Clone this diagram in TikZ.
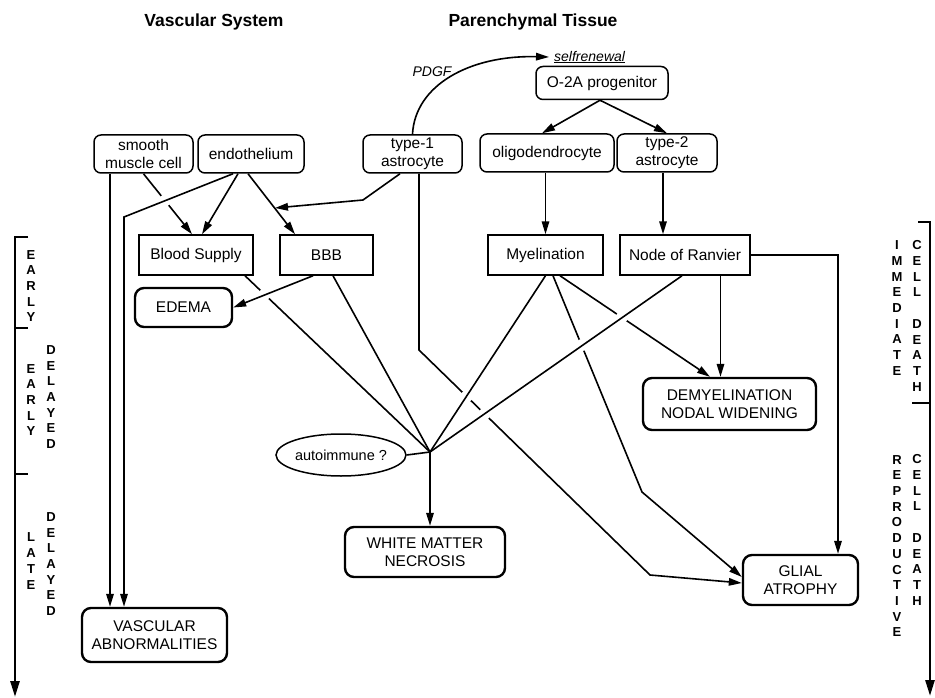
\documentclass[tikz,border=0pt]{standalone}
\usepackage{fontspec}
\setmainfont{Liberation Sans}
\usetikzlibrary{arrows.meta, shapes.geometric}

\begin{document}
\begin{tikzpicture}[x=1pt, y=-1pt,
  every node/.style={font=\fontsize{15.5}{18}\selectfont},
  cell/.style={draw, rounded corners=7pt, line width=1.5pt, minimum height=38pt, inner sep=0pt, align=center},
  effect/.style={draw, line width=1.5pt, minimum height=40pt, inner sep=0pt},
  outcome/.style={draw, rounded corners=9pt, line width=2.4pt, inner sep=0pt, align=center},
  heading/.style={font=\fontsize{17.5}{20}\selectfont\bfseries},
  note/.style={font=\fontsize{14}{16}\selectfont\itshape, inner sep=1pt},
  stack/.style={font=\fontsize{13}{15.7}\selectfont\bfseries, align=center, inner sep=0pt},
  link/.style={line width=1.6pt},
  arr/.style={link, -{Triangle[length=13pt,width=7.5pt]}},
  timeline/.style={line width=2.6pt, -{Triangle[length=16pt,width=9pt]}}
]
\useasboundingbox (0,0) rectangle (935,698);

% headings
\node[heading] (vasctitle) at (214,22) {Vascular System};
\node[heading] (parentitle) at (533,22) {Parenchymal Tissue};

% cells
\node[cell, minimum width=99pt] (smooth) at (143.5,154) {smooth\\muscle cell};
\node[cell, minimum width=106pt] (endo) at (251,154) {endothelium};
\node[cell, minimum width=99pt] (ast1) at (412.5,154) {type-1\\astrocyte};
\node[cell, minimum width=132pt, minimum height=33pt] (o2a) at (602,83) {O-2A progenitor};
\node[cell, minimum width=134pt] (oligo) at (547,153) {oligodendrocyte};
\node[cell, minimum width=100pt] (ast2) at (667,153) {type-2\\astrocyte};

\node[note, anchor=west, inner xsep=5pt] (self) at (549,57) {\underline{selfrenewal}};
\node[note] (pdgf) at (432,72) {PDGF};

% functions
\node[effect, minimum width=114pt] (blood) at (196,255) {Blood Supply};
\node[effect, minimum width=93pt] (bbb) at (326.5,255) {BBB};
\node[effect, minimum width=115pt] (myel) at (545.5,255) {Myelination};
\node[effect, minimum width=130pt] (ranvier) at (685,255) {Node of Ranvier};

% outcomes
\node[outcome, minimum width=97pt, minimum height=39pt] (edema) at (183.5,307.5) {EDEMA};
\node[outcome, minimum width=173pt, minimum height=52pt] (demyel) at (729.5,404) {DEMYELINATION\\NODAL WIDENING};
\node[outcome, minimum width=160pt, minimum height=50pt] (necrosis) at (425,552) {WHITE MATTER\\NECROSIS};
\node[outcome, minimum width=115pt, minimum height=50pt] (glial) at (800.5,580) {GLIAL\\ATROPHY};
\node[outcome, minimum width=145pt, minimum height=54pt] (vasc) at (154.5,635) {VASCULAR\\ABNORMALITIES};
\node[ellipse, draw, line width=1.5pt, minimum width=124pt, minimum height=42pt, inner sep=0pt,
  font=\fontsize{14.5}{16}\selectfont] (auto) at (341,455) {autoimmune ?};

\coordinate (J) at (430,452);
\coordinate (endobend) at (124,217);
\coordinate (astbend) at (363,200);
\coordinate (bbbin) at (275,208);
\coordinate (ast1bend) at (419,350);
\coordinate (ast1knee) at (650,575);
\coordinate (myelknee) at (642,492);

% lines passing underneath
\draw[arr] (smooth.south) -- ([xshift=-4pt]blood.north);
\draw[link] ([xshift=49pt]blood.south) -- (J);
\draw[arr] ([xshift=6.5pt]ast1.south) -- (ast1bend) -- (ast1knee) -- ([yshift=-3pt]glial.west);
\draw[arr] ([xshift=14.5pt]myel.south) -- ([xshift=-19.5pt]demyel.north);
\draw[arr] ([xshift=7.5pt]myel.south) -- (myelknee) -- ([yshift=3pt]glial.west);

% gaps at crossings
\fill[white] (165,200.5) circle (6) (265,294) circle (6) (466.5,396.5) circle (6)
  (484.5,414) circle (6) (622,317) circle (6) (582,345) circle (6);

% vascular system
\draw[arr] ([xshift=-33.5pt]smooth.south) -- ([xshift=-33.5pt]smooth.south |- vasc.north);
\draw[arr] ([xshift=-18pt]endo.south) -- (endobend) -- (endobend |- vasc.north);
\draw[arr] ([xshift=-13pt]endo.south) -- ([xshift=6pt]blood.north);
\draw[arr] ([xshift=-3pt]endo.south) -- ([xshift=-31.5pt]bbb.north);
\draw[arr] ([xshift=-12.5pt]ast1.south) -- (astbend) -- (bbbin);
\draw[arr] ([xshift=-13.5pt]bbb.south) -- (edema.east);

% parenchymal tissue
\draw[arr] (ast1.north) .. controls (415,85) and (470,55) .. (self.west);
\draw[arr] ([xshift=-2pt]o2a.south) -- ([xshift=-5pt]oligo.north);
\draw[arr] ([xshift=-2pt]o2a.south) -- (ast2.north);
\draw[arr] (myel.north |- oligo.south) -- (myel.north);
\draw[arr] ([xshift=-4pt]ast2.south) -- ([xshift=-4pt]ast2.south |- ranvier.north);
\draw[arr] ([xshift=35.5pt]ranvier.south) -- ([xshift=35.5pt]ranvier.south |- demyel.north);
\draw[arr] (ranvier.east) -| ([xshift=37.5pt]glial.north);

% white matter necrosis
\draw[link] ([xshift=6.5pt]bbb.south) -- (J);
\draw[link] (myel.south) -- (J);
\draw[link] ([xshift=-3pt]ranvier.south) -- (J);
\draw[link] (auto.east) -- (J);
\draw[arr] (J) -- (J |- necrosis.north);

% time scales
\draw[timeline] (28,237) -- (15,237) -- (15,697);
\draw[line width=2.6pt] (15,328) -- (28,328) (15,474) -- (28,474);
\node[stack] (early) at (31,286) {E\\A\\R\\L\\Y};
\node[stack] (early2) at (31,400) {E\\A\\R\\L\\Y};
\node[stack] (delayed) at (51,397) {D\\E\\L\\A\\Y\\E\\D};
\node[stack] (late) at (31,561) {L\\A\\T\\E};
\node[stack] (delayed2) at (51,564) {D\\E\\L\\A\\Y\\E\\D};

\draw[timeline] (918,222) -- (930,222) -- (930,696);
\draw[line width=2.6pt] (912,403) -- (930,403);
\node[stack] (immediate) at (897,308) {I\\M\\M\\E\\D\\I\\A\\T\\E};
\node[stack] (death) at (917,316) {C\\E\\L\\L\\[15.7pt]D\\E\\A\\T\\H};
\node[stack] (reprod) at (897,546) {R\\E\\P\\R\\O\\D\\U\\C\\T\\I\\V\\E};
\node[stack] (death2) at (917,530) {C\\E\\L\\L\\[15.7pt]D\\E\\A\\T\\H};
\end{tikzpicture}
\end{document}
